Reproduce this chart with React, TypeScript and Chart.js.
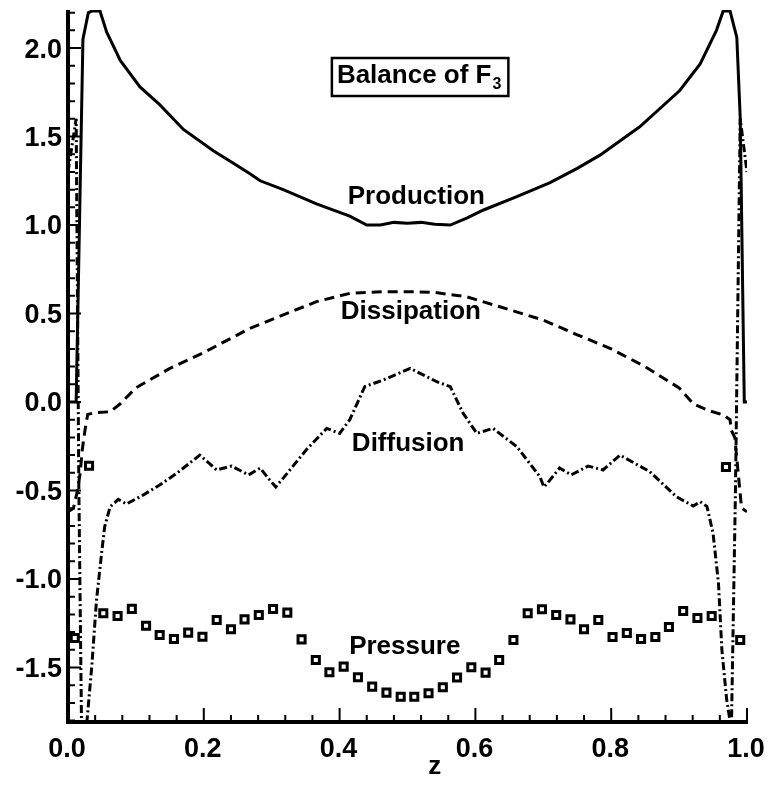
import React, { useEffect, useRef } from "react";
import { Chart, registerables } from "chart.js";
Chart.register(...registerables);

// ---- data ----
const productionZ = [0, 0.012, 0.022, 0.03, 0.036, 0.047, 0.057, 0.077, 0.106, 0.135, 0.17, 0.214, 0.243, 0.268, 0.283, 0.317, 0.366, 0.415, 0.44, 0.46, 0.48, 0.5, 0.52, 0.54, 0.563, 0.588, 0.612, 0.661, 0.71, 0.75, 0.7835, 0.842, 0.901, 0.931, 0.955, 0.965, 0.975, 0.985, 0.99, 0.996, 1.0];
const productionV = [0, 0.0, 2.05, 2.2, 2.21, 2.21, 2.09, 1.93, 1.78, 1.68, 1.54, 1.42, 1.35, 1.29, 1.25, 1.2, 1.12, 1.05, 1.0, 1.0, 1.015, 1.01, 1.015, 1.005, 1.0, 1.04, 1.085, 1.16, 1.24, 1.32, 1.395, 1.555, 1.76, 1.91, 2.1, 2.21, 2.21, 2.06, 1.61, 0.0, 0.0];

const dissipationZ = [0, 0.008, 0.014, 0.018, 0.021, 0.025, 0.029, 0.04, 0.062, 0.077, 0.1, 0.15, 0.2, 0.268, 0.317, 0.366, 0.415, 0.464, 0.504, 0.538, 0.587, 0.636, 0.7, 0.75, 0.8, 0.85, 0.9, 0.921, 0.941, 0.965, 0.975, 0.977, 0.982, 0.987, 0.992, 1.0];
const dissipationV = [-0.62, -0.6, -0.5, -0.4, -0.27, -0.16, -0.07, -0.06, -0.055, -0.01, 0.08, 0.19, 0.28, 0.416, 0.492, 0.567, 0.614, 0.623, 0.623, 0.62, 0.595, 0.538, 0.463, 0.38, 0.3, 0.2, 0.08, -0.01, -0.045, -0.073, -0.1, -0.16, -0.2, -0.4, -0.6, -0.62];

const diffusionZ = [0, 0.012, 0.016, 0.02, 0.028, 0.035, 0.042, 0.05, 0.054, 0.062, 0.074, 0.086, 0.111, 0.135, 0.16, 0.194, 0.219, 0.241, 0.266, 0.283, 0.297, 0.306, 0.317, 0.351, 0.381, 0.4, 0.415, 0.437, 0.464, 0.504, 0.543, 0.563, 0.582, 0.602, 0.626, 0.661, 0.695, 0.701, 0.71, 0.724, 0.741, 0.766, 0.788, 0.813, 0.857, 0.896, 0.921, 0.931, 0.941, 0.95, 0.958, 0.963, 0.97, 0.977, 0.983, 0.99, 1.0];
const diffusionV = [1.3, 1.6, -0.5, -1.85, -1.8, -1.495, -1.119, -0.836, -0.705, -0.592, -0.55, -0.576, -0.525, -0.469, -0.403, -0.3, -0.384, -0.362, -0.412, -0.373, -0.44, -0.48, -0.43, -0.27, -0.149, -0.177, -0.1, 0.087, 0.124, 0.19, 0.115, 0.087, -0.064, -0.177, -0.149, -0.252, -0.422, -0.48, -0.44, -0.373, -0.412, -0.362, -0.384, -0.3, -0.394, -0.535, -0.588, -0.563, -0.59, -0.742, -1.024, -1.4, -1.68, -1.85, -0.5, 1.6, 1.3];

const pressureZ = [0.010, 0.031, 0.052, 0.073, 0.094, 0.115, 0.135, 0.156, 0.177, 0.198, 0.219, 0.240, 0.260, 0.281, 0.302, 0.323, 0.344, 0.365, 0.385, 0.406, 0.427, 0.448, 0.469, 0.490, 0.510, 0.531, 0.552, 0.573, 0.594, 0.615, 0.635, 0.656, 0.677, 0.698, 0.719, 0.740, 0.760, 0.781, 0.802, 0.823, 0.844, 0.865, 0.885, 0.906, 0.927, 0.948, 0.969, 0.990];
const pressureV = [-1.333, -0.36, -1.194, -1.209, -1.169, -1.264, -1.316, -1.339, -1.303, -1.326, -1.232, -1.284, -1.228, -1.203, -1.17, -1.19, -1.341, -1.458, -1.527, -1.495, -1.555, -1.608, -1.642, -1.665, -1.665, -1.646, -1.612, -1.557, -1.499, -1.529, -1.458, -1.345, -1.194, -1.171, -1.203, -1.228, -1.284, -1.232, -1.328, -1.305, -1.339, -1.328, -1.271, -1.181, -1.22, -1.209, -0.367, -1.345];

const xTickValues = [0, 0.2, 0.4, 0.6, 0.8, 1.0];
const xTickLabels = ["0.0", "0.2", "0.4", "0.6", "0.8", "1.0"];
const yTickValues = [-1.5, -1.0, -0.5, 0.0, 0.5, 1.0, 1.5, 2.0];
const yTickLabels = ["-1.5", "-1.0", "-0.5", "0.0", "0.5", "1.0", "1.5", "2.0"];

const curveLabels = ["Production", "Dissipation", "Diffusion", "Pressure"];
const curveLabelZ = [0.513, 0.505, 0.501, 0.496];
const curveLabelV = [1.158, 0.508, -0.237, -1.384];

const xTitle = "z";
const boxTitle = "Balance of F";
const boxSub = "3";

const X_MIN = 0, X_MAX = 1.0, Y_MIN = -1.808, Y_MAX = 2.215;
const FONT = '"Liberation Sans", Arial, Helvetica, sans-serif';

const toPts = (zs: number[], vs: number[]) => zs.map((z, i) => ({ x: z, y: vs[i] }));

const decorPlugin = {
  id: "decor",
  afterDatasetsDraw(chart: any) {
    const { ctx, chartArea, scales } = chart;
    const xs = scales.x, ys = scales.y;
    ctx.save();
    ctx.strokeStyle = "#000";
    ctx.fillStyle = "#000";
    ctx.lineCap = "butt";
    // axis lines
    ctx.lineWidth = 4;
    ctx.beginPath();
    ctx.moveTo(chartArea.left, chartArea.top);
    ctx.lineTo(chartArea.left, chartArea.bottom);
    ctx.lineTo(chartArea.right + 1, chartArea.bottom);
    ctx.stroke();
    // ticks
    ctx.lineWidth = 2;
    ctx.beginPath();
    for (let i = 0; i <= 25; i++) {
      const v = i * 0.04;
      const px = xs.getPixelForValue(v);
      const major = i % 5 === 0;
      ctx.moveTo(px, chartArea.bottom);
      ctx.lineTo(px, chartArea.bottom - (major ? 14 : 7));
    }
    for (let i = -18; i <= 22; i++) {
      const v = i / 10;
      if (v < Y_MIN || v > Y_MAX) continue;
      const py = ys.getPixelForValue(v);
      const major = i % 5 === 0;
      ctx.moveTo(chartArea.left, py);
      ctx.lineTo(chartArea.left + (major ? 13 : 7), py);
    }
    ctx.stroke();
    // tick labels
    ctx.font = `bold 27px ${FONT}`;
    ctx.textAlign = "center";
    ctx.textBaseline = "middle";
    xTickValues.forEach((v, i) => {
      ctx.fillText(xTickLabels[i], xs.getPixelForValue(v) - 1, chartArea.bottom + 28);
    });
    ctx.textAlign = "right";
    yTickValues.forEach((v, i) => {
      ctx.fillText(yTickLabels[i], chartArea.left - 6, ys.getPixelForValue(v) + 2);
    });
    // axis title
    ctx.textAlign = "center";
    ctx.font = `bold 26px ${FONT}`;
    ctx.fillText(xTitle, xs.getPixelForValue(0.54), chartArea.bottom + 45);
    // curve labels
    ctx.font = `bold 26px ${FONT}`;
    curveLabels.forEach((t, i) => {
      ctx.fillText(t, xs.getPixelForValue(curveLabelZ[i]), ys.getPixelForValue(curveLabelV[i]));
    });
    // box title
    const bx = xs.getPixelForValue(0.396);
    const by = ys.getPixelForValue(1.842);
    ctx.font = `bold 26px ${FONT}`;
    ctx.textAlign = "left";
    const w1 = ctx.measureText(boxTitle).width;
    ctx.fillText(boxTitle, bx, by);
    ctx.font = `bold 16px ${FONT}`;
    const w2 = ctx.measureText(boxSub).width;
    ctx.fillText(boxSub, bx + w1 + 1, by + 9);
    ctx.lineWidth = 2.5;
    ctx.strokeRect(bx - 5, by - 18, w1 + w2 + 13, 38);
    ctx.restore();
  },
};

export default function App() {
  const ref = useRef<HTMLCanvasElement | null>(null);
  useEffect(() => {
    if (!ref.current) return;
    const chart = new Chart(ref.current, {
      type: "scatter",
      data: {
        datasets: [
          {
            label: "Production",
            data: toPts(productionZ, productionV),
            showLine: true,
            borderColor: "#000",
            borderWidth: 3,
            pointRadius: 0,
            tension: 0,
          },
          {
            label: "Dissipation",
            data: toPts(dissipationZ, dissipationV),
            showLine: true,
            borderColor: "#000",
            borderWidth: 3,
            borderDash: [10, 6],
            pointRadius: 0,
            tension: 0,
          },
          {
            label: "Diffusion",
            data: toPts(diffusionZ, diffusionV),
            showLine: true,
            borderColor: "#000",
            borderWidth: 3,
            borderDash: [8, 3, 2, 3],
            pointRadius: 0,
            tension: 0,
          },
          {
            label: "Pressure",
            data: toPts(pressureZ, pressureV),
            showLine: false,
            pointStyle: "rect",
            pointRadius: 5,
            borderColor: "#000",
            backgroundColor: "#fff",
            borderWidth: 3,
          },
        ],
      },
      options: {
        responsive: false,
        animation: false,
        layout: { padding: { left: 68, right: 23, top: 10, bottom: 72 } },
        plugins: { legend: { display: false }, tooltip: { enabled: false } },
        scales: {
          x: { type: "linear", min: X_MIN, max: X_MAX, display: false },
          y: { type: "linear", min: Y_MIN, max: Y_MAX, display: false },
        },
      },
      plugins: [decorPlugin],
    });
    return () => chart.destroy();
  }, []);
  return (
    <div style={{ position: "fixed", left: 0, top: 0, width: 770, height: 794, background: "#fff" }}>
      <canvas ref={ref} width={770} height={794} style={{ width: 770, height: 794 }} />
    </div>
  );
}
